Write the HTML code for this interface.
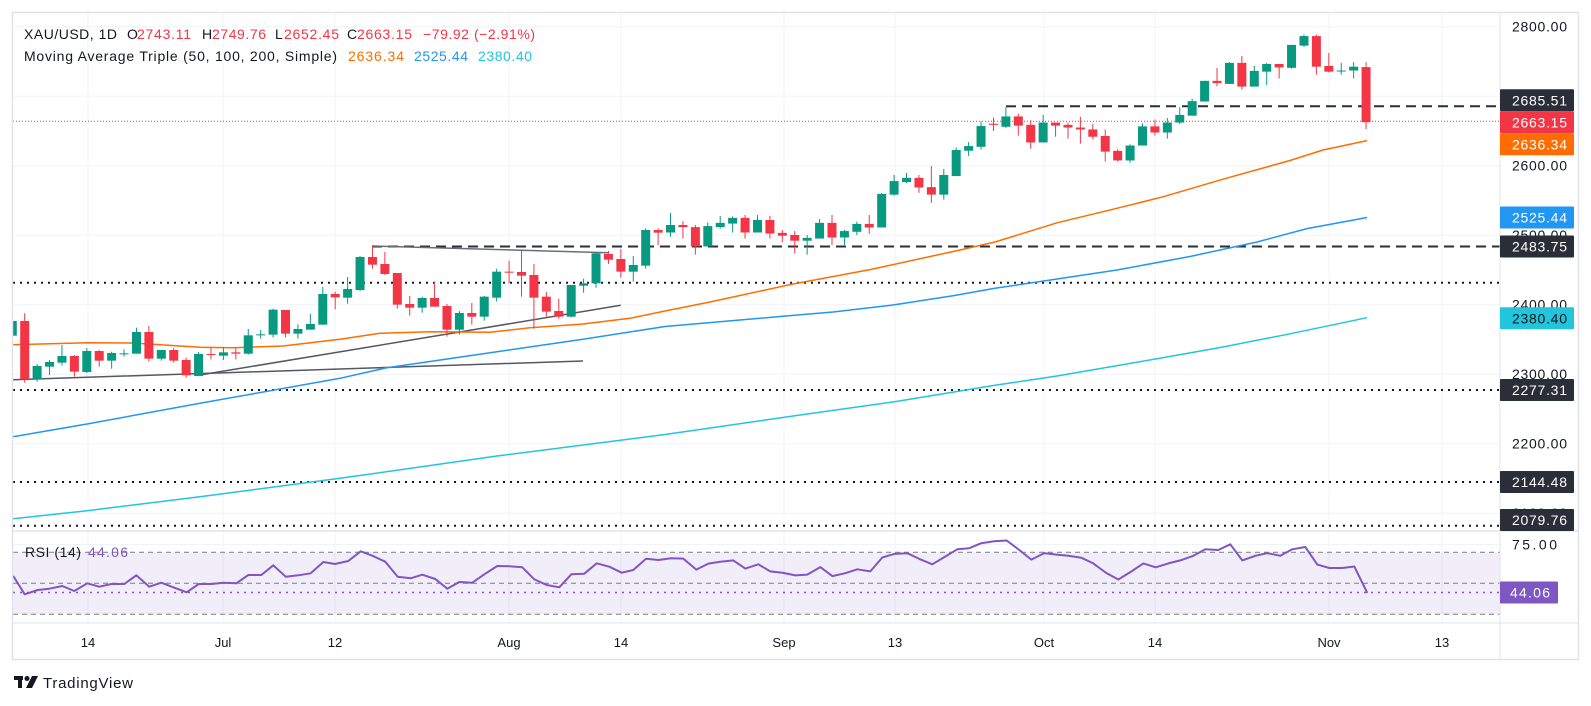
<!DOCTYPE html>
<html><head><meta charset="utf-8">
<style>
html,body{margin:0;padding:0;background:#fff;}
svg{display:block;font-family:"Liberation Sans",sans-serif;}
</style></head>
<body>
<svg id="s" width="1591" height="706" viewBox="0 0 1591 706" xmlns="http://www.w3.org/2000/svg">
<defs>
<clipPath id="mp"><rect x="13" y="13" width="1487" height="518"/></clipPath>
<clipPath id="rp"><rect x="13" y="531" width="1487" height="92"/></clipPath>
</defs>
<rect x="0" y="0" width="1591" height="706" fill="#fff"/>
<g id="grid" stroke="#f0f3fa" stroke-width="1"></g>
<rect x="13" y="552.3" width="1487" height="62" fill="#7E57C2" fill-opacity="0.1"/>
<g id="lines" clip-path="url(#mp)"></g>
<g id="candles" clip-path="url(#mp)"></g>
<g id="rsi" clip-path="url(#rp)"></g>
<!-- frame -->
<rect x="12.5" y="12.5" width="1566" height="647" fill="none" stroke="#e0e3eb" stroke-width="1.5"/>
<line x1="1500" y1="13" x2="1500" y2="659" stroke="#e0e3eb"/>
<line x1="13" y1="531" x2="1578" y2="531" stroke="#e0e3eb" stroke-width="1.5"/>
<line x1="13" y1="623" x2="1578" y2="623" stroke="#e0e3eb"/>

<!-- header -->
<text y="39" font-size="14" fill="#131722">
<tspan x="24" textLength="93">XAU/USD, 1D</tspan>
<tspan x="127">O</tspan><tspan x="137" fill="#F23645" textLength="54">2743.11</tspan>
<tspan x="202">H</tspan><tspan x="212" fill="#F23645" textLength="54">2749.76</tspan>
<tspan x="275">L</tspan><tspan x="284" fill="#F23645" textLength="55">2652.45</tspan>
<tspan x="347">C</tspan><tspan x="357" fill="#F23645" textLength="55">2663.15</tspan>
<tspan x="423" fill="#F23645" textLength="112">−79.92 (−2.91%)</tspan>
</text>
<text y="61" font-size="14" fill="#131722">
<tspan x="24" textLength="313">Moving Average Triple (50, 100, 200, Simple)</tspan>
<tspan x="348" fill="#FF6D00" textLength="56">2636.34</tspan>
<tspan x="414" fill="#2196F3" textLength="54">2525.44</tspan>
<tspan x="478" fill="#22C5DC" textLength="54">2380.40</tspan>
</text>
<text x="25" y="557" font-size="14" fill="#131722" textLength="56">RSI (14)</text>
<text x="88" y="557" font-size="14" fill="#7E57C2" textLength="40">44.06</text>

<!-- price axis -->
<g font-size="14" fill="#131722">
<text x="1512" y="31.7" textLength="55">2800.00</text>
<text x="1512" y="170.7" textLength="55">2600.00</text>
<text x="1512" y="240.2" textLength="55">2500.00</text>
<text x="1512" y="309.7" textLength="55">2400.00</text>
<text x="1512" y="379.2" textLength="55">2300.00</text>
<text x="1512" y="448.7" textLength="55">2200.00</text>
<text x="1512" y="518.2" textLength="55">2100.00</text>
<text x="1512" y="549.5" textLength="45">75.00</text>
</g>
<g font-size="14">
<rect x="1500" y="89.3" width="74" height="22" fill="#2a2e39" rx="1"/><text x="1512" y="105.3" fill="#fff" textLength="55">2685.51</text>
<rect x="1500" y="111.3" width="74" height="22" fill="#F23645" rx="1"/><text x="1512" y="127.3" fill="#fff" textLength="55">2663.15</text>
<rect x="1500" y="133.3" width="74" height="22" fill="#FF6D00" rx="1"/><text x="1512" y="149.3" fill="#fff" textLength="55">2636.34</text>
<rect x="1500" y="206.5" width="74" height="22" fill="#2196F3" rx="1"/><text x="1512" y="222.5" fill="#fff" textLength="55">2525.44</text>
<rect x="1500" y="235.5" width="74" height="22" fill="#2a2e39" rx="1"/><text x="1512" y="251.5" fill="#fff" textLength="55">2483.75</text>
<rect x="1500" y="307.3" width="74" height="22" fill="#22C5DC" rx="1"/><text x="1512" y="323.3" fill="#131722" textLength="55">2380.40</text>
<rect x="1500" y="379" width="74" height="22" fill="#2a2e39" rx="1"/><text x="1512" y="395" fill="#fff" textLength="55">2277.31</text>
<rect x="1500" y="471" width="74" height="22" fill="#2a2e39" rx="1"/><text x="1512" y="487" fill="#fff" textLength="55">2144.48</text>
<rect x="1500" y="509" width="74" height="22" fill="#2a2e39" rx="1"/><text x="1512" y="525" fill="#fff" textLength="55">2079.76</text>
<rect x="1500" y="581.5" width="58" height="22" fill="#7E57C2" rx="1"/><text x="1510" y="597.5" fill="#fff" textLength="40">44.06</text>
</g>

<!-- time axis -->
<g font-size="13" fill="#131722" text-anchor="middle">
<text x="88" y="647">14</text>
<text x="223" y="647">Jul</text>
<text x="335" y="647">12</text>
<text x="509" y="647">Aug</text>
<text x="621" y="647">14</text>
<text x="784" y="647">Sep</text>
<text x="895" y="647">13</text>
<text x="1044" y="647">Oct</text>
<text x="1155" y="647">14</text>
<text x="1329" y="647">Nov</text>
<text x="1442" y="647">13</text>
</g>

<!-- logo -->
<g fill="#131722">
<rect x="14" y="676" width="9" height="4"/>
<rect x="18" y="676" width="4" height="12"/>
<circle cx="27" cy="678.5" r="2.5"/>
<polygon points="32,676 38,676 32,688 26,688"/>
<text x="43" y="688" font-size="15" textLength="90">TradingView</text>
</g>

<script>
(function(){
var NS="http://www.w3.org/2000/svg";
function el(p,t,a){var e=document.createElementNS(NS,t);for(var k in a)e.setAttribute(k,a[k]);p.appendChild(e);return e;}
var Y=function(p){return 26.7+(2800-p)*0.695;};
var X=function(i){return 24.7+i*12.42;};
var g=document.getElementById('grid');
[2800,2700,2600,2500,2400,2300,2200,2100].forEach(function(p){el(g,'line',{x1:13,x2:1500,y1:Y(p),y2:Y(p)});});
el(g,'line',{x1:13,x2:1500,y1:544.5,y2:544.5});
[88,223,335,509,621,784,895,1044,1155,1329,1442].forEach(function(x){el(g,'line',{x1:x,x2:x,y1:13,y2:623});});
var L=document.getElementById('lines');
function pl(pts,st,w,da){var a={points:pts.map(function(p){return p[0]+','+p[1];}).join(' '),fill:'none',stroke:st,'stroke-width':w,'stroke-linejoin':'round'};if(da)a['stroke-dasharray']=da;el(L,'polyline',a);}
// dotted levels
[282.7,390,482,525.7].forEach(function(y){pl([[13,y],[1500,y]],'#131722',2,'2,5');});
pl([[13,121.3],[1500,121.3]],'#F23645',1,'1,2');
pl([[372,246.5],[1500,246.5]],'#2a2e39',2,'10,6');
pl([[1006,106.3],[1500,106.3]],'#2a2e39',2,'10,6');
// trend lines
pl([[372,246],[608,252.7]],'#6a6d78',1.5);
pl([[13,379.7],[340,369],[583,361]],'#555862',1.5);
pl([[200,375],[620.7,305.3]],'#555862',1.5);
// MAs
pl([[13,344.7],[87,342.7],[133,343],[200,347.3],[233,347.7],[283,346],[340,339.3],[380,333.3],[430,331.7],[490,332.3],[530,327.7],[583,324],[630,318.3],[665,311],[710,302],[793,284],[870,269.6],[960,250],[995,242],[1057,222.8],[1123,206.8],[1163,196.8],[1223,179.2],[1290,160.5],[1323,150],[1367,140.6]],'#FF6D00',1.5);
pl([[13,436.7],[87,424],[200,403.3],[340,378.3],[387,367.7],[497,351.7],[583,339.3],[665,326.5],[793,315.4],[833,312],[893,305],[953,295.7],[995,288.3],[1057,279],[1117,270],[1190,256.5],[1257,242],[1307,228.6],[1367,217.5]],'#2196F3',1.5);
pl([[13,518.7],[87,510.7],[200,496.7],[340,478.3],[497,456],[665,434.5],[793,416],[893,402],[995,385.3],[1057,376],[1157,358.7],[1223,347],[1290,333.8],[1367,317.7]],'#22C5DC',1.5);
// candles
var Z=[[220,3,[
[-1,'g',303,347,303,347],[0,'r',303,478,280,488],[1,'g',438,478,432,485],[2,'g',426,440,420,465],[3,'g',408,428,375,437],[4,'r',408,455,405,470],[5,'g',393,456,384,459],[6,'r',393,422,390,440],[7,'g',399,422,395,446],[8,'g',400,402,388,410],[9,'g',336,401,323,401],[10,'r',336,416,318,425],[11,'g',390,416,390,422],[12,'r',390,422,384,428],[13,'r',420,466,413,473],[14,'g',402,468,396,468],[15,'r',402,404,382,418],[16,'g',397,407,382,420],[17,'r',397,401,384,418],[18,'g',346,401,327,404],[19,'g',343,345,330,356],[20,'g',269,344,266,352],[21,'r',270,341,270,352],[22,'g',327,341,313,356],[23,'g',312,329,282,329],[24,'g',222,314,201,314],[25,'r',222,232,215,268]]],
[180,3,[
[26,'g',327,353,291,371],[27,'g',231,330,228,333],[28,'r',231,254,197,266],[29,'r',252,282,216,285],[30,'r',279,374,279,386],[31,'r',372,383,348,407],[32,'g',354,383,350,398],[33,'r',354,380,306,380],[34,'r',378,449,372,470],[35,'g',399,449,393,464],[36,'r',399,410,369,434],[37,'g',350,410,348,422],[38,'g',275,353,266,365],[39,'r',275,277,242,310],[40,'r',276,287,210,350],[41,'r',285,353,252,446],[42,'r',350,395,336,410],[43,'r',393,410,356,416],[44,'g',315,410,315,412],[45,'g',310,317,296,338],[46,'g',220,310,217,323],[47,'r',222,239,213,252],[48,'r',237,275,207,293],[49,'g',255,275,228,305],[50,'g',150,257,145,266],[51,'r',150,158,145,195]]],
[60,2.8,[
[52,'g',462,483,428,495],[53,'r',462,468,451,500],[54,'r',468,522,462,545],[55,'g',465,522,455,522],[56,'g',456,468,437,472],[57,'g',442,458,438,483],[58,'r',442,483,434,500],[59,'g',448,483,434,483],[60,'r',448,486,436,500],[61,'r',484,492,476,510],[62,'r',490,506,479,542],[63,'g',498,506,490,545],[64,'g',456,500,445,500],[65,'r',456,497,434,518],[66,'g',479,497,476,518],[67,'g',459,481,453,490],[68,'r',459,469,434,487],[69,'g',375,469,372,469],[70,'g',339,377,322,380],[71,'g',330,342,316,345],[72,'r',330,357,322,372],[73,'r',356,377,297,400],[74,'g',322,377,305,391],[75,'g',252,325,245,325],[76,'g',241,254,230,269],[77,'g',185,243,172,251]]],
[20,2.613,[
[78,'r',271,274,255,290],[79,'g',252,279,228,282],[80,'r',252,276,245,302],[81,'r',274,320,262,336],[82,'g',268,320,248,320],[83,'r',268,276,268,305],[84,'r',274,281,268,310],[85,'r',281,286,253,323],[86,'r',286,305,272,312],[87,'r',303,344,286,370],[88,'r',342,367,338,370],[89,'g',328,367,325,373],[90,'g',278,328,270,328],[91,'r',278,294,260,302],[92,'g',268,294,256,310],[93,'g',248,268,228,272],[94,'g',212,250,206,250],[95,'g',159,213,159,213],[96,'r',159,165,125,173],[97,'g',112,167,110,167],[98,'r',112,174,94,182],[99,'g',133,174,120,174],[100,'g',115,135,112,170],[101,'r',115,124,115,153],[102,'g',65,125,65,127],[103,'g',42,67,38,70],[104,'r',42,122,38,143],[105,'r',120,135,86,137],[106,'g',132,134,112,143],[107,'g',122,132,110,153],[108,'r',123,267,110,285]]]];
var C=document.getElementById('candles');
Z.forEach(function(z){var off=z[0],k=z[1];z[2].forEach(function(c){
 var x=X(c[0]),col=c[1]=='g'?'#089981':'#F23645';
 var bt=off+c[2]/k,bb=off+c[3]/k,wt=off+c[4]/k,wb=off+c[5]/k;
 el(C,'line',{x1:x,x2:x,y1:wt,y2:wb,stroke:col,'stroke-width':1});
 el(C,'rect',{x:x-4.5,y:bt,width:9,height:Math.max(1,bb-bt),fill:col});
});});
// RSI
var R=document.getElementById('rsi');
[552.3,583.3,614.3].forEach(function(y){el(R,'line',{x1:13,x2:1500,y1:y,y2:y,stroke:'#787B86','stroke-width':1,'stroke-dasharray':'5,4'});});
el(R,'line',{x1:13,x2:1500,y1:592.5,y2:592.5,stroke:'#7E57C2','stroke-width':1.5,'stroke-dasharray':'2,5'});
var pts=[];
function add(ox,oy,k,a){a.forEach(function(p){pts.push([ox+p[0]/3,oy+p[1]/k]);});}
add(0,220,3,[[40,1068],[74,1123],[113,1110],[148,1106],[187,1098],[223,1113],[262,1090],[298,1100],[334,1092],[373,1092],[409,1066],[448,1100],[484,1088],[523,1103],[560,1117],[596,1092],[634,1092],[670,1088],[709,1090],[745,1065],[784,1065],[820,1036],[857,1070],[895,1066],[932,1060],[970,1026]]);
add(330,180,3,[[15,1152],[55,1143],[92,1114],[127,1127],[166,1145],[203,1190],[242,1195],[277,1184],[316,1197],[352,1226],[388,1206],[427,1208],[463,1183],[502,1158],[538,1159],[577,1162],[613,1198],[650,1215],[688,1222],[724,1183],[763,1181],[800,1150],[838,1160],[875,1178],[910,1170],[948,1136],[985,1140]]);
add(660,60,2.8,[[34,1395],[70,1396],[109,1427],[145,1410],[181,1405],[220,1401],[256,1424],[295,1412],[331,1432],[370,1436],[406,1443],[442,1441],[481,1420],[517,1445],[556,1437],[592,1426],[631,1432],[667,1393],[703,1383],[742,1381],[778,1397],[817,1412],[853,1392],[892,1370],[928,1367],[964,1353]]);
add(990,20,2.613,[[12,1362],[50,1360],[88,1385],[124,1410],[163,1393],[199,1397],[235,1400],[274,1405],[310,1420],[349,1445],[385,1462],[424,1441],[460,1420],[497,1430],[535,1420],[571,1412],[610,1400],[646,1383],[685,1385],[721,1370],[757,1412],[796,1400],[832,1393],[871,1400],[907,1383],[946,1377],[982,1423],[1018,1432],[1057,1432],[1093,1428],[1132,1497]]);
el(R,'polyline',{points:pts.map(function(p){return p[0].toFixed(1)+','+p[1].toFixed(1);}).join(' '),fill:'none',stroke:'#7E57C2','stroke-width':2,'stroke-linejoin':'round'});
})();
</script>
</svg>
</body></html>
